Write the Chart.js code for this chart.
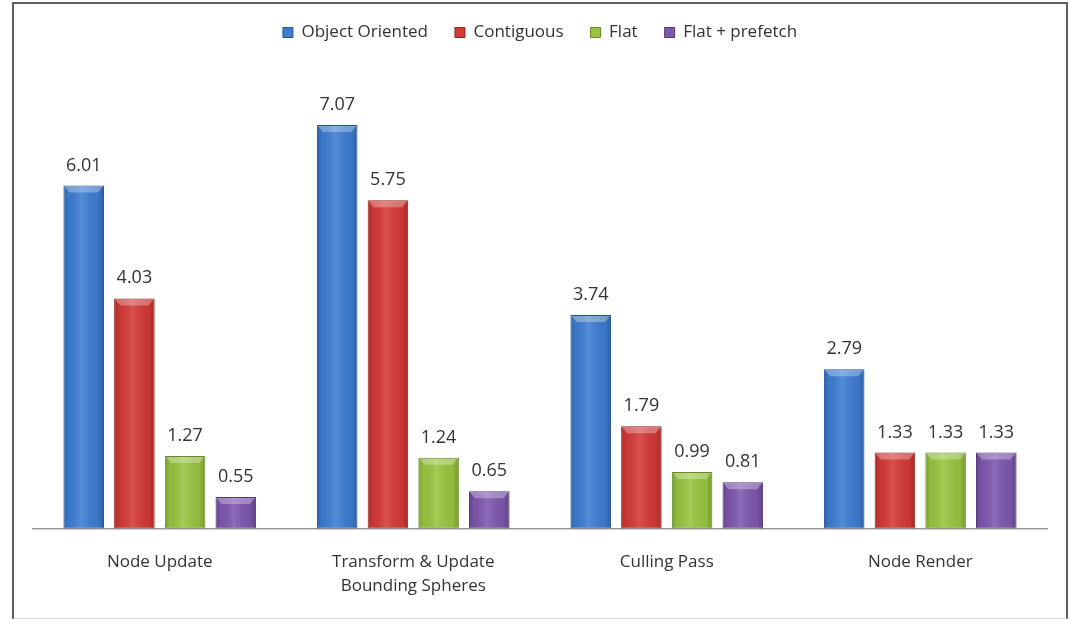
<!DOCTYPE html>
<html><head><meta charset="utf-8">
<script src="https://cdn.jsdelivr.net/npm/chart.js@4.4.0/dist/chart.umd.min.js"></script>
<style>
html,body{margin:0;padding:0;background:#fff;width:1070px;height:620px;overflow:hidden}
#frame{position:absolute;left:12px;top:2px;width:1056px;height:617px;border-left:2px solid #5e5e5e;border-top:2px solid #5e5e5e;border-right:2px solid #5e5e5e;border-bottom:1px solid #d8d8d8;box-sizing:border-box}
#wrap{position:absolute;left:0;top:0;width:1070px;height:620px}
</style></head><body>
<div id="frame"></div>
<div id="wrap"><canvas id="c"></canvas></div>
<script>
const categories = ["Node Update", ["Transform & Update", "Bounding Spheres"], "Culling Pass", "Node Render"];
const seriesNames = ["Object Oriented", "Contiguous", "Flat", "Flat + prefetch"];
const objectOriented = [6.01, 7.07, 3.74, 2.79];
const contiguous = [4.03, 5.75, 1.79, 1.33];
const flat = [1.27, 1.24, 0.99, 1.33];
const flatPrefetch = [0.55, 0.65, 0.81, 1.33];

const fills = ["#3d7dd2", "#d43935", "#98c53f", "#7e57ae"];
const borders = ["#24549a", "#8e2320", "#688a28", "#52397c"];
const values = [objectOriented, contiguous, flat, flatPrefetch];

const FONT = "'Open Sans', 'Liberation Sans', sans-serif";

const legendGap = {
  id: 'legendGap',
  beforeInit(chart) {
    const lg = chart.legend;
    const orig = lg.fit;
    lg.fit = function () { orig.call(this); this.height += 21; };
  }
};

const barStyle = {
  id: 'barStyle',
  afterDatasetsDraw(chart) {
    const ctx = chart.ctx;
    chart.data.datasets.forEach((ds, di) => {
      const meta = chart.getDatasetMeta(di);
      meta.data.forEach((el, i) => {
        const p = el.getProps(['x', 'y', 'base', 'width'], true);
        const l = p.x - p.width / 2, r = p.x + p.width / 2;
        ctx.save();
        const g = ctx.createLinearGradient(l, 0, r, 0);
        g.addColorStop(0, 'rgba(0,0,0,0.22)');
        g.addColorStop(0.12, 'rgba(0,0,0,0.05)');
        g.addColorStop(0.45, 'rgba(255,255,255,0.12)');
        g.addColorStop(0.85, 'rgba(0,0,0,0.05)');
        g.addColorStop(1, 'rgba(0,0,0,0.25)');
        ctx.fillStyle = g;
        ctx.fillRect(l + 1, p.y + 1, p.width - 2, p.base - p.y - 2);
        const h = Math.min(7, (p.base - p.y) / 3);
        ctx.beginPath();
        ctx.moveTo(l + 1, p.y + 1);
        ctx.lineTo(r - 1, p.y + 1);
        ctx.lineTo(r - 6, p.y + h);
        ctx.lineTo(l + 6, p.y + h);
        ctx.closePath();
        ctx.fillStyle = 'rgba(255,255,255,0.3)';
        ctx.fill();
        ctx.restore();
        ctx.save();
        ctx.font = "18px " + FONT;
        ctx.fillStyle = '#333';
        ctx.textAlign = 'center';
        ctx.textBaseline = 'alphabetic';
        ctx.fillText(ds.data[i].toFixed(2), p.x, p.y - 15);
        ctx.restore();
      });
    });
  }
};

new Chart(document.getElementById('c'), {
  type: 'bar',
  data: {
    labels: categories,
    datasets: seriesNames.map((n, k) => ({
      label: n,
      data: values[k],
      backgroundColor: fills[k],
      borderColor: borders[k],
      borderWidth: 1,
      borderSkipped: false,
      categoryPercentage: 0.8,
      barPercentage: 0.8
    }))
  },
  options: {
    responsive: true,
    maintainAspectRatio: false,
    animation: false,
    layout: { padding: { left: 33, right: 23, top: -3, bottom: 0 } },
    plugins: {
      tooltip: { enabled: false },
      legend: {
        position: 'top',
        labels: {
          boxWidth: 10, boxHeight: 10,
          color: '#333',
          font: { size: 17, family: FONT },
          padding: 27
        }
      }
    },
    scales: {
      x: {
        grid: { display: false, drawTicks: false },
        border: { display: true, color: '#9a9a9a', width: 1.5 },
        ticks: { color: '#333', font: { size: 17, family: FONT, lineHeight: 1.4 }, padding: 22, maxRotation: 0 }
      },
      y: { display: false, min: 0, max: 8 }
    }
  },
  plugins: [legendGap, barStyle]
});
</script>
</body></html>
